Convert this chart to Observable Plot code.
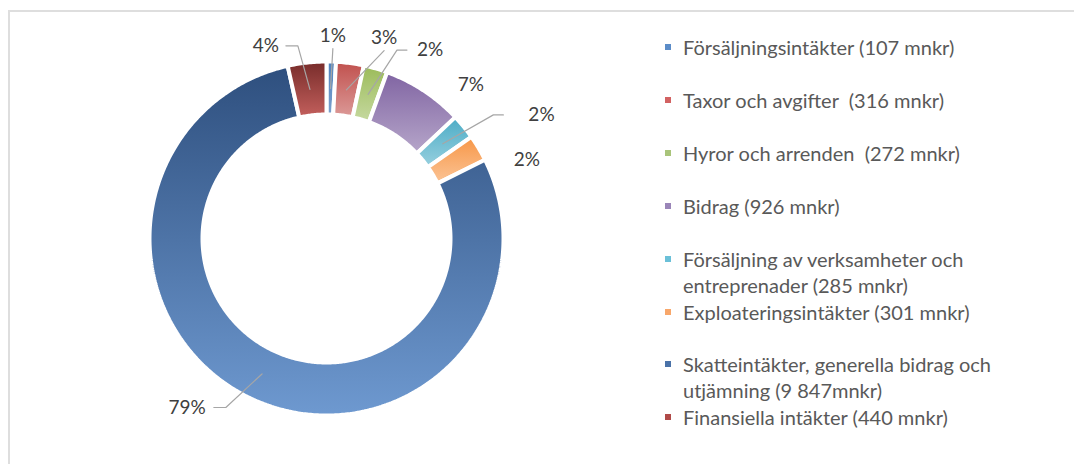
<!DOCTYPE html>
<html>
<head>
<meta charset="utf-8">
<script src="https://cdn.jsdelivr.net/npm/d3@7"></script>
<script src="https://cdn.jsdelivr.net/npm/@observablehq/plot@0.6"></script>
<style>
  body { margin: 0; background: #fff; }
  #wrap { position: relative; width: 1074px; height: 464px; overflow: hidden; background: #fff; }
  #frame { position: absolute; left: 8px; top: 10px; width: 1200px; height: 600px; border: 2px solid #dedede; }
  #chart { position: absolute; left: 0; top: 0; }
  #legend { position: absolute; left: 0; top: 0; font-family: Lato, sans-serif; color: #595959; }
  .item { position: absolute; left: 683px; white-space: pre; line-height: 26px; }
  .swatch { position: absolute; left: 665px; width: 6px; height: 6px; }
</style>
</head>
<body>
<div id="wrap">
  <div id="frame"></div>
  <div id="chart"></div>
  <div id="legend"></div>
</div>
<script>
// ---- data ----
const categories = [
  "Försäljningsintäkter",
  "Taxor och avgifter",
  "Hyror och arrenden",
  "Bidrag",
  "Försäljning av verksamheter och entreprenader",
  "Exploateringsintäkter",
  "Skatteintäkter, generella bidrag och utjämning",
  "Finansiella intäkter"
];
const values = [107, 316, 272, 926, 285, 301, 9847, 440];
const legendLines = [
  ["Försäljningsintäkter (107 mnkr)"],
  ["Taxor och avgifter  (316 mnkr)"],
  ["Hyror och arrenden  (272 mnkr)"],
  ["Bidrag (926 mnkr)"],
  ["Försäljning av verksamheter och", "entreprenader (285 mnkr)"],
  ["Exploateringsintäkter (301 mnkr)"],
  ["Skatteintäkter, generella bidrag och", "utjämning (9 847mnkr)"],
  ["Finansiella intäkter (440 mnkr)"]
];

// ---- styles / layout ----
const gradTop    = ["#4f81bd", "#c0504d", "#9bbb59", "#8064a2", "#4bacc6", "#f79646", "#2e4f7e", "#772c2a"];
const gradBottom = ["#7ba0cd", "#dc9a98", "#c6d9a0", "#b6a6ca", "#98d0df", "#fbc496", "#6e99d0", "#c4605d"];
const swatchColors = ["#5b8cc8", "#d26262", "#a9c47a", "#9a85b8", "#6bc0d8", "#f8a76a", "#4a72a8", "#b04a48"];
const W = 1074, H = 464;
const cx = 326, cy = 238, R = 177, r = 124, ringMid = 150;
// label placement: [angle (deg, clockwise from top), radius px]
const labelPolar = [[1.8, 203], [16, 209], [28.8, 215], [43.2, 211], [60.1, 248], [68.7, 215], [219.5, 219], [-17.5, 202]];
// leader style: null, "below", "left" (attach at label's left), "right"
const leaderSide = ["below", "below", "left", null, "left", null, "right", "right"];
const leaderGap = [0, 0, 10, 0, 25, 0, 8, 7];
const labelFont = 19;
const legendFont = 20;
const legendTop = 47, legendStep = 52.9;

// ---- geometry from the data ----
const pie = d3.pie().sort(null).value(d => d.value).startAngle(0).endAngle(2 * Math.PI);
const data = categories.map((name, i) => ({name, value: values[i], i}));
const arcs = pie(data);
const total = d3.sum(values);
const pt = (a, rad) => [cx + rad * Math.sin(a), cy - rad * Math.cos(a)];

const ringPts = [];
arcs.forEach(a => {
  const n = Math.max(4, Math.ceil((a.endAngle - a.startAngle) / 0.01));
  const outer = d3.range(n + 1).map(k => pt(a.startAngle + (a.endAngle - a.startAngle) * k / n, R));
  const inner = d3.range(n + 1).map(k => pt(a.endAngle - (a.endAngle - a.startAngle) * k / n, r));
  [...outer, ...inner, outer[0]].forEach(([x, y]) => ringPts.push({name: a.data.name, x, y}));
});

const labels = arcs.map((a, i) => {
  const [deg, rad] = labelPolar[i];
  const [x, y] = pt(deg * Math.PI / 180, rad);
  return {i, x, y, text: Math.round(a.value / total * 100) + "%"};
});

// measure label widths
const ctx = document.createElement("canvas").getContext("2d");
ctx.font = `${labelFont}px Lato`;
const leaderPts = [];
labels.forEach(l => {
  const side = leaderSide[l.i];
  if (!side) return;
  const a = arcs[l.i];
  const mid = (a.startAngle + a.endAngle) / 2;
  const [ex, ey] = pt(mid, ringMid);
  const hw = ctx.measureText(l.text).width / 2;
  let pts;
  if (side === "below") pts = [[l.x, l.y + 13], [ex, ey]];
  else if (side === "left") {
    const sx = l.x - hw - leaderGap[l.i];
    pts = [[sx, l.y], [sx - 10, l.y], [ex, ey]];
  } else {
    const sx = l.x + hw + leaderGap[l.i];
    pts = [[sx, l.y], [sx + 12, l.y], [ex, ey]];
  }
  pts.forEach(([x, y]) => leaderPts.push({id: l.i, x, y}));
});

const svg = Plot.plot({
  width: W, height: H,
  margin: 0,
  x: {domain: [0, W], range: [0, W], axis: null},
  y: {domain: [0, H], range: [0, H], axis: null},
  color: {type: "ordinal", domain: categories, range: categories.map((d, i) => `url(#grad${i})`)},
  style: {background: "transparent"},
  marks: [
    Plot.line(ringPts, {x: "x", y: "y", z: "name", fill: "name", stroke: "white", strokeWidth: 4, strokeLinejoin: "miter", curve: "linear"}),
    Plot.line(leaderPts, {x: "x", y: "y", z: "id", stroke: "#a6a6a6", strokeWidth: 1.2}),
    Plot.text(labels, {x: "x", y: "y", text: "text", fill: "#404040", fontSize: labelFont, fontFamily: "Lato"})
  ]
});

const defs = d3.select(svg).insert("defs", ":first-child");
gradTop.forEach((c, i) => {
  const g = defs.append("linearGradient").attr("id", `grad${i}`).attr("x1", 0).attr("y1", 0).attr("x2", 0).attr("y2", 1);
  g.append("stop").attr("offset", "0%").attr("stop-color", c);
  g.append("stop").attr("offset", "100%").attr("stop-color", gradBottom[i]);
});
document.getElementById("chart").appendChild(svg);

// legend
const legend = d3.select("#legend");
legendLines.forEach((lines, i) => {
  const yc = legendTop + legendStep * i;
  legend.append("div").attr("class", "swatch")
    .style("top", (yc - 3) + "px").style("background", swatchColors[i]);
  legend.append("div").attr("class", "item")
    .style("top", (yc - 13) + "px").style("font-size", legendFont + "px")
    .text(lines.join("\n"));
});
</script>
</body>
</html>
